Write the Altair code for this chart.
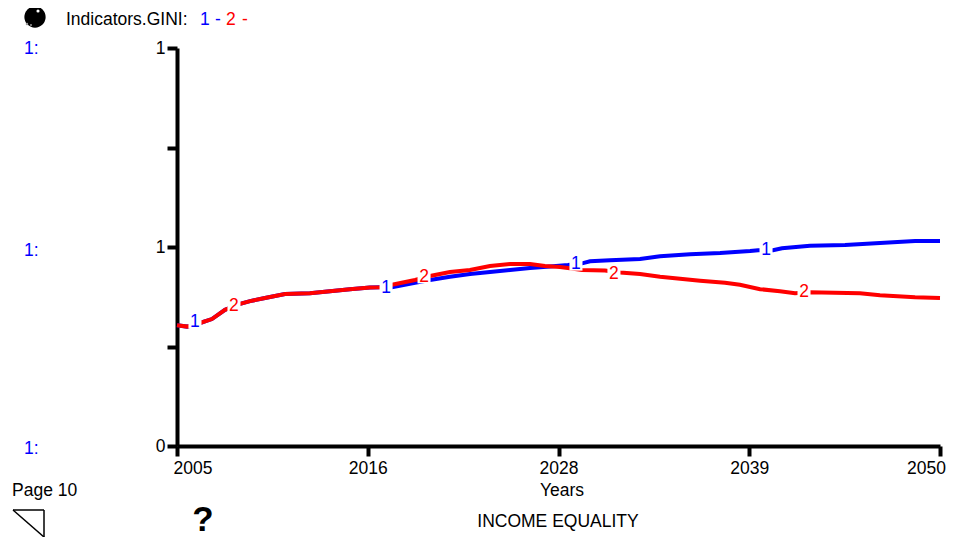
import altair as alt
import pandas as pd

# Series (year, GINI index on a 0-1 scale)
blue_years = [2005.0, 2005.59, 2006.36, 2007.06, 2007.83, 2008.72, 2009.31, 2010.19, 2011.37, 2012.84, 2014.02, 2015.2, 2016.38, 2016.97, 2017.68, 2019.04, 2019.92, 2021.1, 2022.28, 2023.46, 2024.64, 2025.82, 2027.0, 2028.06, 2028.89, 2029.36, 2030.54, 2032.31, 2033.49, 2035.26, 2037.03, 2038.8, 2039.27, 2040.15, 2040.68, 2042.33, 2044.4, 2046.46, 2048.53, 2050.0]
blue_vals = [0.3035, 0.300, 0.309, 0.319, 0.342, 0.357, 0.364, 0.372, 0.382, 0.384, 0.389, 0.394, 0.398, 0.399, 0.399, 0.410, 0.417, 0.425, 0.432, 0.437, 0.442, 0.447, 0.451, 0.455, 0.459, 0.464, 0.467, 0.470, 0.477, 0.482, 0.485, 0.490, 0.492, 0.492, 0.497, 0.503, 0.505, 0.510, 0.515, 0.515]
red_years = [2005.0, 2005.59, 2006.36, 2007.06, 2007.83, 2008.72, 2009.31, 2010.19, 2011.37, 2012.84, 2014.02, 2015.2, 2016.38, 2016.97, 2017.68, 2019.04, 2019.92, 2021.1, 2022.28, 2023.46, 2024.64, 2025.82, 2026.7, 2027.59, 2028.06, 2028.89, 2030.24, 2031.13, 2032.31, 2033.49, 2034.67, 2035.85, 2037.32, 2038.2, 2039.39, 2040.56, 2041.45, 2042.28, 2045.28, 2046.46, 2048.53, 2050.0]
red_vals = [0.3035, 0.300, 0.309, 0.319, 0.342, 0.357, 0.364, 0.372, 0.382, 0.384, 0.389, 0.394, 0.398, 0.399, 0.405, 0.417, 0.427, 0.437, 0.442, 0.452, 0.457, 0.457, 0.452, 0.450, 0.447, 0.442, 0.441, 0.436, 0.432, 0.425, 0.420, 0.415, 0.410, 0.405, 0.394, 0.389, 0.384, 0.386, 0.384, 0.379, 0.374, 0.372]

# Number labels along the lines
label_years = [2006.06, 2008.36, 2017.33, 2019.57, 2028.53, 2030.77, 2039.74, 2041.98]
label_vals = [0.312, 0.352, 0.397, 0.425, 0.457, 0.432, 0.492, 0.387]
label_text = ["1", "2", "1", "2", "1", "2", "1", "2"]
label_series = ["blue", "red", "blue", "red", "blue", "red", "blue", "red"]

x_ticks = [2005, 2016.25, 2027.5, 2038.75, 2050]
y_ticks = [0, 0.25, 0.5, 0.75, 1]

BLUE, RED = "#0000ff", "#ff0000"
FONT = "Liberation Sans"
FS = 17.5
PX_LEFT, PX_TOP = 177, 48

lines = pd.concat([
    pd.DataFrame({"year": blue_years, "v": blue_vals, "s": "blue"}),
    pd.DataFrame({"year": red_years, "v": red_vals, "s": "red"}),
])
labels = pd.DataFrame({"year": label_years, "v": label_vals, "t": label_text, "s": label_series})

x_scale = alt.Scale(domain=[2005, 2050], nice=False, zero=False)
y_scale = alt.Scale(domain=[0, 1], nice=False)
color_scale = alt.Scale(domain=["blue", "red"], range=[BLUE, RED])

x_enc = alt.X("year:Q", scale=x_scale, axis=alt.Axis(
    values=x_ticks, format=".0f", title=None, grid=False, labelFlush=False,
    domainWidth=4, domainColor="black", tickWidth=4, tickColor="black", tickSize=10,
    labelFont=FONT, labelFontSize=FS, labelColor="black", labelPadding=3, labelOverlap=False,
    labelAlign={"condition": {"test": "datum.value == 2005", "value": "left"}, "value": "center"},
    labelOffset={"condition": [{"test": "datum.value == 2005", "value": -4},
                               {"test": "datum.value == 2050", "value": -14}], "value": 0}))
y_enc = alt.Y("v:Q", scale=y_scale, axis=alt.Axis(
    values=y_ticks, title=None, grid=False,
    labelExpr="datum.value == 0 ? '0' : (datum.value == 0.5 || datum.value == 1 ? '1' : '')",
    domainWidth=4, domainColor="black", tickWidth=4, tickColor="black", tickSize=10,
    labelFont=FONT, labelFontSize=FS, labelColor="black", labelPadding=2, labelOverlap=False))

line_layer = alt.Chart(lines).mark_line(strokeWidth=4, interpolate="linear", clip=False).encode(
    x=x_enc, y=y_enc, order=alt.Order("s:N"),
    color=alt.Color("s:N", scale=color_scale, legend=None))
bg_layer = alt.Chart(labels).mark_square(size=170, color="white", opacity=1).encode(
    x=alt.X("year:Q", scale=x_scale), y=alt.Y("v:Q", scale=y_scale))
txt_layer = alt.Chart(labels).mark_text(font=FONT, fontSize=FS).encode(
    x=alt.X("year:Q", scale=x_scale), y=alt.Y("v:Q", scale=y_scale), text="t:N",
    color=alt.Color("s:N", scale=color_scale, legend=None))


def note(text, px, py, color="black", size=FS, align="left", bold=False):
    return alt.Chart(pd.DataFrame({"t": [text]})).mark_text(
        font=FONT, fontSize=size, align=align, baseline="middle", color=color,
        fontWeight="bold" if bold else "normal"
    ).encode(x=alt.value(px - PX_LEFT), y=alt.value(py - PX_TOP), text="t:N")


def dot(px, py, size, color):
    return alt.Chart(pd.DataFrame({"a": [0]})).mark_circle(size=size, color=color, opacity=1).encode(
        x=alt.value(px - PX_LEFT), y=alt.value(py - PX_TOP))


def seg(x1, y1, x2, y2):
    return alt.Chart(pd.DataFrame({"a": [0]})).mark_rule(color="black", strokeWidth=1.5).encode(
        x=alt.value(x1 - PX_LEFT), x2=alt.value(x2 - PX_LEFT),
        y=alt.value(y1 - PX_TOP), y2=alt.value(y2 - PX_TOP))


decor = [
    note("Indicators.GINI:", 66, 20),
    note("1", 200, 20, BLUE), note("-", 215, 20, BLUE),
    note("2", 226, 20, RED), note("-", 242, 20, RED),
    note("1:", 24, 49, BLUE), note("1:", 24, 251, BLUE), note("1:", 24, 449, BLUE),
    note("Page 10", 12, 491),
    note("Years", 562, 491, align="center"),
    note("INCOME EQUALITY", 558, 522, align="center"),
    note("?", 203, 520, size=35, align="center", bold=True),
    dot(35, 17, 452, "black"), dot(38, 11, 10, "white"), dot(27, 24, 6, "#999999"), dot(31, 25, 4, "#999999"),
    seg(13, 510, 44, 510), seg(44, 510, 44, 537), seg(13, 510, 44, 537),
]

chart = alt.layer(line_layer, bg_layer, txt_layer, *decor).properties(
    width=763, height=398,
    padding={"left": 169, "top": 40, "right": 21, "bottom": 91},
    autosize=alt.AutoSizeParams(type="none"),
    background="white",
).configure_view(stroke=None)

chart.save("out.html", embed_options={"renderer": "svg", "actions": False})
